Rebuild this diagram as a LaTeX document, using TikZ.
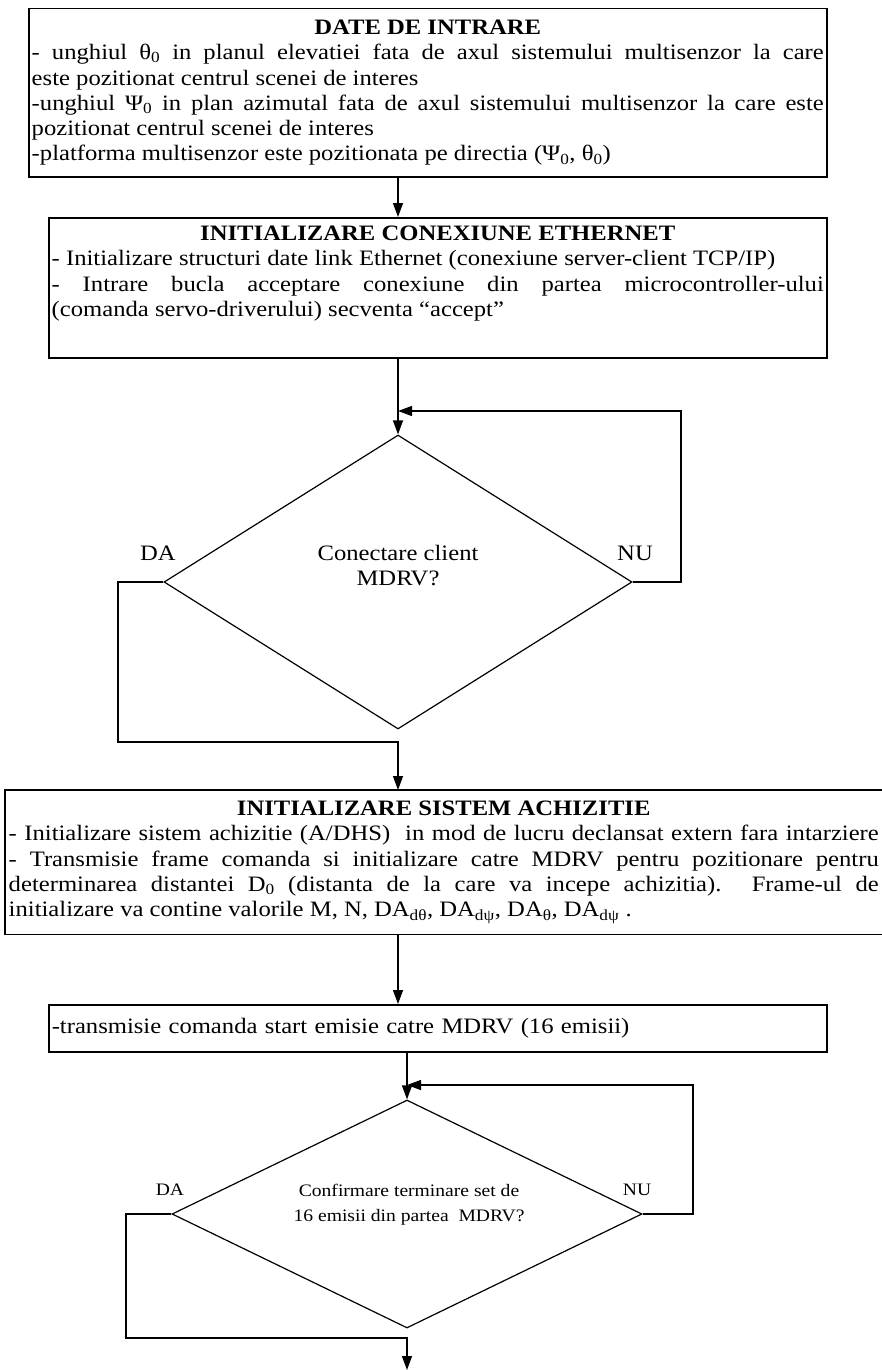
\documentclass[tikz,border=0pt]{standalone}
\usepackage{fontspec}
\setmainfont{Liberation Serif}[FakeStretch=1.12]
\usetikzlibrary{shapes.geometric,arrows.meta}

\newcommand{\idx}[1]{\textsubscript{#1}}

\begin{document}
\begin{tikzpicture}[
      x=1pt, y=-1pt,
      box/.style={draw, line width=1.5pt, anchor=north west, inner xsep=3pt, inner ysep=0pt, align=justify, font=\fontsize{22}{25.3}\selectfont},  % text boxes
      decision/.style={draw, diamond, line width=1.2pt, inner sep=0pt},  % question diamonds
      flow/.style={line width=1.3pt, -{Triangle[length=14pt,width=10pt]}},
      tag/.style={font=\fontsize{22}{25}\selectfont},
      smalltag/.style={font=\fontsize{17.5}{25}\selectfont}
    ]
    \useasboundingbox (0,0) rectangle (882,1370);

    \node[box, text width=792pt, minimum height=168pt] (inputs) at (28,8) {%
      {\centering\bfseries DATE DE INTRARE\par}
      - unghiul θ\idx{0} in planul elevatiei fata de axul sistemului multisenzor la care\linebreak
      este pozitionat centrul scenei de interes\par
      -unghiul Ψ\idx{0} in plan azimutal fata de axul sistemului multisenzor la care este\linebreak
      pozitionat centrul scenei de interes\par
      -platforma multisenzor este pozitionata pe directia (Ψ\idx{0}, θ\idx{0})};

    \node[box, text width=772pt, minimum height=140pt] (ether) at (48,217) {%
      {\centering\bfseries INITIALIZARE CONEXIUNE ETHERNET\par}
      - Initializare structuri date link Ethernet (conexiune server-client TCP/IP)\par
      - Intrare bucla acceptare conexiune din partea microcontroller-ului\linebreak
      (comanda servo-driverului) secventa “accept”\par
      \strut};

    \node[decision, minimum width=468pt, minimum height=294pt] (conn) at (398,582) {};
    \node[tag, align=center] (conntxt) at (398,566) {Conectare client\\MDRV?};
    \node[tag] (connyes) at (158,553) {DA};
    \node[tag] (connno) at (635,553) {NU};

    \node[box, draw=none, text width=870pt, minimum height=143pt] (acq) at (5,790) {%
      {\centering\bfseries INITIALIZARE SISTEM ACHIZITIE\par}
      \makebox[\linewidth][s]{- Initializare sistem achizitie (A/DHS)\ \ in mod de lucru declansat extern fara intarziere}\par
      - Transmisie frame comanda si initializare catre MDRV pentru pozitionare pentru\linebreak
      determinarea distantei D\idx{0} (distanta de la care va incepe achizitia). Frame-ul de\linebreak
      initializare va contine valorile M, N, DA\idx{dθ}, DA\idx{dψ}, DA\idx{θ}, DA\idx{dψ} .};
    \draw[line width=1.5pt] (acq.north west) rectangle ([xshift=12pt]acq.south east);

    \node[box, align=left, text width=772pt, minimum height=47pt] (start) at (48,1004) {%
      -transmisie comanda start emisie catre MDRV (16 emisii)};

    \node[decision, minimum width=470pt, minimum height=228pt] (done) at (407,1214) {};
    \node[smalltag, align=center] (donetxt) at (409,1205) {Confirmare terminare set de\\16 emisii din partea~ MDRV?};
    \node[smalltag] (doneyes) at (170,1190) {DA};
    \node[smalltag] (doneno) at (637,1190) {NU};

    % bends of the loops
    \coordinate (connloop) at (681,411);
    \coordinate (connin) at (398,411);
    \coordinate (connyesend) at (118,742);
    \coordinate (doneloop) at (693,1085);
    \coordinate (donein) at (407,1085);
    \coordinate (doneyesend) at (126,1338);
    \coordinate (doneout) at (407,1370);

    \draw[flow] (inputs.south -| conn.north) -- (ether.north -| conn.north);
    \draw[flow] (ether.south -| conn.north) -- (conn.north);
    \draw[flow] (conn.east) -| (connloop) -- (connin);
    \draw[flow] (conn.west) -| (connyesend) -| (acq.north -| conn.south);
    \draw[flow] (acq.south -| conn.south) -- (start.north -| conn.south);
    \draw[flow] (start.south -| done.north) -- (done.north);
    \draw[flow] (done.east) -| (doneloop) -- (donein);
    \draw[flow] (done.west) -| (doneyesend) -| (doneout);
\end{tikzpicture}
\end{document}
